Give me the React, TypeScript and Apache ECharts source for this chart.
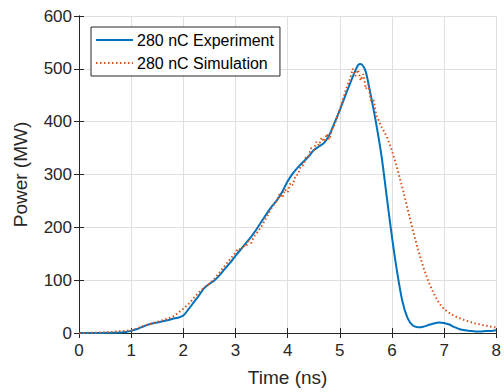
import React, { useEffect, useRef } from "react";
import * as echarts from "echarts";

const expTime = [0, 0.2, 0.4, 0.6, 0.8, 0.9, 1.0, 1.1, 1.2, 1.3, 1.4, 1.5, 1.6, 1.7, 1.8, 1.9, 2.0, 2.1, 2.2, 2.3, 2.4, 2.5, 2.6, 2.7, 2.8, 2.9, 3.0, 3.1, 3.2, 3.3, 3.4, 3.5, 3.6, 3.7, 3.8, 3.9, 4.0, 4.1, 4.2, 4.3, 4.4, 4.5, 4.6, 4.7, 4.8, 4.9, 5.0, 5.1, 5.2, 5.3, 5.35, 5.4, 5.45, 5.5, 5.6, 5.7, 5.8, 5.9, 6.0, 6.1, 6.2, 6.3, 6.4, 6.5, 6.6, 6.7, 6.8, 6.9, 7.0, 7.1, 7.2, 7.3, 7.4, 7.5, 7.6, 7.7, 7.8, 7.9, 8.0];
const expPower = [0, 0, 0, 0.5, 1, 2, 4, 7, 11, 15, 18, 20, 22, 24, 27, 29, 33, 45, 58, 71, 85, 93, 100, 110, 122, 133, 146, 158, 170, 182, 196, 211, 226, 240, 252, 268, 287, 302, 314, 324, 334, 346, 353, 360, 375, 398, 422, 448, 473, 497, 507, 509, 505, 494, 447, 395, 335, 258, 182, 115, 60, 28, 14, 11, 12, 15, 18, 20, 19, 16, 11, 7, 5, 4, 3, 3, 4, 4, 5];

const simTime = [0, 0.5, 1.0, 1.1, 1.2, 1.3, 1.4, 1.5, 1.6, 1.7, 1.8, 1.9, 2.0, 2.1, 2.2, 2.3, 2.4, 2.5, 2.6, 2.7, 2.8, 2.9, 3.0, 3.05, 3.1, 3.15, 3.2, 3.25, 3.3, 3.35, 3.4, 3.5, 3.6, 3.7, 3.8, 3.85, 3.9, 3.95, 4.0, 4.05, 4.1, 4.15, 4.2, 4.25, 4.3, 4.35, 4.4, 4.45, 4.5, 4.55, 4.6, 4.65, 4.7, 4.75, 4.8, 4.85, 4.9, 5.0, 5.1, 5.15, 5.2, 5.25, 5.3, 5.35, 5.4, 5.45, 5.5, 5.55, 5.6, 5.65, 5.7, 5.8, 5.9, 6.0, 6.1, 6.2, 6.3, 6.4, 6.5, 6.6, 6.7, 6.8, 6.9, 7.0, 7.1, 7.2, 7.3, 7.4, 7.5, 7.6, 7.7, 7.8, 7.9, 8.0];
const simPower = [0, 1, 5, 8, 12, 15, 18, 21, 24, 27, 31, 38, 46, 55, 66, 77, 86, 93, 103, 115, 128, 140, 152, 160, 157, 166, 163, 174, 170, 182, 188, 202, 220, 238, 252, 264, 256, 272, 266, 284, 280, 298, 300, 316, 318, 332, 334, 350, 346, 362, 355, 370, 362, 377, 366, 385, 395, 423, 455, 470, 482, 500, 486, 498, 478, 490, 462, 470, 438, 440, 412, 390, 372, 345, 312, 275, 235, 195, 158, 125, 97, 75, 57, 45, 38, 32, 28, 24, 21, 18, 16, 14, 12, 10];

const xTicks = { min: 0, max: 8, interval: 1 };
const yTicks = { min: 0, max: 600, interval: 100 };

const FONT = "'Liberation Sans', Arial, Helvetica, sans-serif";
const TEXT = "#262626";

export default function App() {
  const ref = useRef<HTMLDivElement>(null);
  useEffect(() => {
    if (!ref.current) return;
    const chart = echarts.init(ref.current, undefined, { renderer: "svg" });
    const axisLine = { show: true, lineStyle: { color: TEXT, width: 1 } };
    const tick = { show: true, inside: true, length: 5, lineStyle: { color: TEXT } };
    chart.setOption({
      animation: false,
      backgroundColor: "#ffffff",
      textStyle: { fontFamily: FONT, color: TEXT },
      grid: { left: 79, right: 5, top: 16, bottom: 55 },
      legend: {
        left: 91,
        top: 27,
        orient: "vertical",
        backgroundColor: "#ffffff",
        borderColor: TEXT,
        borderWidth: 1,
        borderRadius: 0,
        padding: [5, 6, 5, 4],
        itemWidth: 37,
        itemHeight: 14,
        itemGap: 7,
        itemStyle: { opacity: 0 },
        textStyle: { fontFamily: FONT, fontSize: 16, color: "#000", padding: [0, 0, 0, -1] },
        data: ["280 nC Experiment", "280 nC Simulation"],
      },
      xAxis: [
        {
          type: "value",
          ...xTicks,
          name: "Time (ns)",
          nameLocation: "middle",
          nameGap: 35,
          nameTextStyle: { fontSize: 19, color: TEXT, fontFamily: FONT },
          axisLine,
          axisTick: tick,
          axisLabel: { fontSize: 17, color: TEXT, margin: 9, fontFamily: FONT },
          splitLine: { show: true, lineStyle: { color: "#dfdfdf", width: 1 } },
        },
        {
          type: "value",
          position: "top",
          ...xTicks,
          axisLine,
          axisTick: tick,
          axisLabel: { show: false },
          splitLine: { show: false },
        },
      ],
      yAxis: [
        {
          type: "value",
          ...yTicks,
          name: "Power (MW)",
          nameLocation: "middle",
          nameGap: 49,
          nameTextStyle: { fontSize: 19, color: TEXT, fontFamily: FONT },
          axisLine,
          axisTick: tick,
          axisLabel: { fontSize: 17, color: TEXT, margin: 7, fontFamily: FONT },
          splitLine: { show: true, lineStyle: { color: "#dfdfdf", width: 1 } },
        },
        {
          type: "value",
          position: "right",
          ...yTicks,
          axisLine,
          axisTick: tick,
          axisLabel: { show: false },
          splitLine: { show: false },
        },
      ],
      series: [
        {
          name: "280 nC Experiment",
          type: "line",
          symbol: "none",
          smooth: 0.3,
          data: expTime.map((t, i) => [t, expPower[i]]),
          lineStyle: { color: "#0072BD", width: 2 },
          itemStyle: { color: "#0072BD" },
          z: 3,
        },
        {
          name: "280 nC Simulation",
          type: "line",
          symbol: "none",
          data: simTime.map((t, i) => [t, simPower[i]]),
          lineStyle: { color: "#D95319", width: 2, type: [1.5, 2.5] },
          itemStyle: { color: "#D95319" },
          z: 4,
        },
      ],
    });
    return () => chart.dispose();
  }, []);
  return <div ref={ref} style={{ width: 504, height: 392, position: "absolute", left: 0, top: 0 }} />;
}
